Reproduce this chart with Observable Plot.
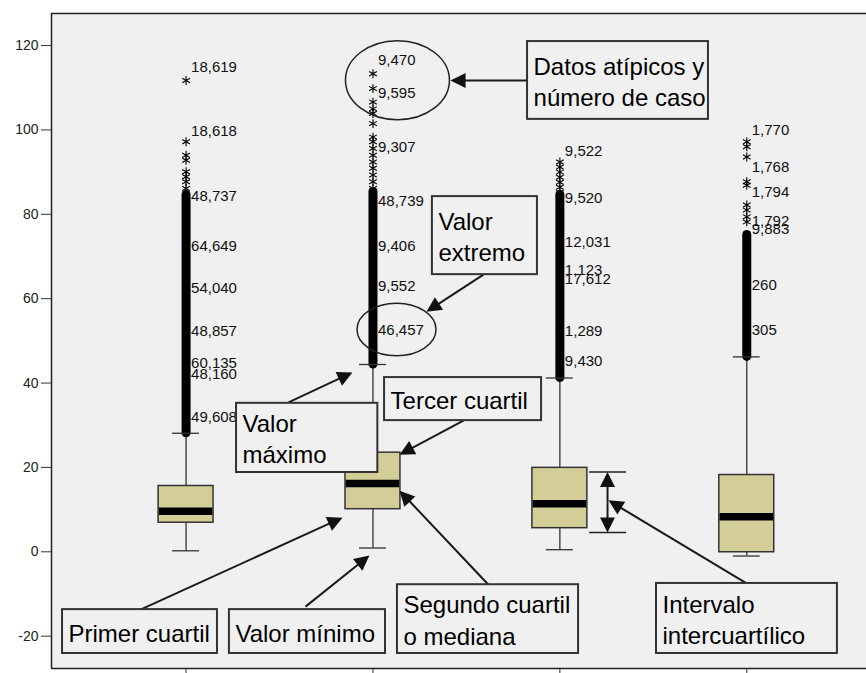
<!DOCTYPE html>
<html><head><meta charset="utf-8">
<script src="https://cdn.jsdelivr.net/npm/d3@7"></script>
<script src="https://cdn.jsdelivr.net/npm/@observablehq/plot@0.6"></script>
<style>html,body{margin:0;padding:0;background:#fff;} #chart svg{display:block;}</style>
</head><body><div id="chart"></div>
<script>
// ---- data ----
const groupPos = [1, 2, 3, 4];
const q1 = [6.9, 10.1, 5.6, -0.1];
const median = [9.6, 16.2, 11.4, 8.3];
const q3 = [15.6, 23.5, 19.9, 18.2];
const whiskerLow = [0.24, 0.9, 0.5, -1.0];
const whiskerHigh = [28.1, 44.4, 41.2, 46.2];
const denseOutlierTop = [84.6, 85.3, 84.6, 75.1];

const extremes1 = [111.7, 97.2, 94.0, 92.8, 90.1, 88.9, 87.7, 86.1];
const extremes2 = [113.3, 109.8, 106.6, 105.0, 103.9, 101.5, 98.3, 97.2, 95.6, 94.0, 92.4, 90.9, 89.3, 87.7, 86.1];
const extremes3 = [92.4, 91.2, 90.0, 88.8, 87.6, 86.4, 85.2];
const extremes4 = [97.2, 96.0, 93.6, 87.7, 86.9, 82.2, 81.0, 79.4, 78.2, 74.7];

const caseIds1 = ["18,619", "18,618", "48,737", "64,649", "54,040", "48,857", "60,135", "48,160", "49,608"];
const caseY1 = [114.8, 99.8, 84.2, 72.5, 62.5, 52.2, 44.8, 42.0, 31.9];
const caseIds2 = ["9,470", "9,595", "9,307", "48,739", "9,406", "9,552", "46,457"];
const caseY2 = [116.5, 108.6, 95.8, 83.0, 72.5, 62.9, 52.6];
const caseIds3 = ["9,522", "9,520", "12,031", "1,123", "17,612", "1,289", "9,430"];
const caseY3 = [95.0, 83.8, 73.5, 66.8, 64.7, 52.2, 45.2];
const caseIds4 = ["1,770", "1,768", "1,794", "1,792", "9,883", "260", "305"];
const caseY4 = [99.9, 91.1, 85.2, 78.3, 76.4, 63.3, 52.6];

const yTicks = [-20, 0, 20, 40, 60, 80, 100, 120];

// ---- annotations (in data units) ----
const notes = [
  {text: "Datos atípicos y\nnúmero de caso", x1: 2.827, x2: 3.795, y1: 102.5, y2: 120.95},
  {text: "Valor\nextremo", x1: 2.318, x2: 2.880, y1: 65.7, y2: 84.2},
  {text: "Tercer cuartil", x1: 2.062, x2: 2.902, y1: 31.1, y2: 41.3},
  {text: "Valor\nmáximo", x1: 1.270, x2: 2.026, y1: 18.8, y2: 35.2},
  {text: "Primer cuartil", x1: 0.339, x2: 1.168, y1: -24.1, y2: -13.7},
  {text: "Valor mínimo", x1: 1.232, x2: 2.067, y1: -24.1, y2: -13.7},
  {text: "Segundo cuartil\no mediana", x1: 2.131, x2: 3.100, y1: -24.1, y2: -7.8},
  {text: "Intervalo\nintercuartílico", x1: 3.517, x2: 4.485, y1: -24.1, y2: -7.5}
];
const arrows = [
  {x1: 2.827, y1: 111.7, x2: 2.415, y2: 111.7},
  {x1: 2.591, y1: 65.7, x2: 2.286, y2: 56.9},
  {x1: 2.484, y1: 31.1, x2: 2.142, y2: 23.0},
  {x1: 1.548, y1: 35.4, x2: 1.890, y2: 42.5},
  {x1: 0.756, y1: -13.7, x2: 1.837, y2: 8.1},
  {x1: 1.639, y1: -13.0, x2: 1.981, y2: -0.9},
  {x1: 2.618, y1: -7.8, x2: 2.142, y2: 14.5},
  {x1: 3.999, y1: -7.5, x2: 3.260, y2: 12.2},
  {x1: 3.255, y1: 11.75, x2: 3.255, y2: 18.9},
  {x1: 3.255, y1: 11.75, x2: 3.255, y2: 4.6}
];
const bracket = [{y: 18.9, x1: 3.159, x2: 3.357}, {y: 4.6, x1: 3.159, x2: 3.357}];
const ellipses = [{x: 2.131, y: 111.8, rx: 52, ry: 39.5}, {x: 2.126, y: 52.7, rx: 39.5, ry: 26.2}];

// ---- layout ----
const W = 866, H = 673, ML = 51, MT = 13, MB = 5, MR = 0;
const X_DOMAIN = [0.28, 4.6406];
const Y_DOMAIN = [-27.66, 127.6];
const sx = d3.scaleLinear(X_DOMAIN, [ML, W - MR]);
const sy = d3.scaleLinear(Y_DOMAIN, [H - MB, MT]);
const BOX_HALF = 0.147, CAP_HALF = 0.072;
const FONT = "'Liberation Sans', Arial, sans-serif";

const boxes = groupPos.map((pos, i) => ({
  pos, q1: q1[i], med: median[i], q3: q3[i], lo: whiskerLow[i], hi: whiskerHigh[i], top: denseOutlierTop[i]
}));
const stars = [extremes1, extremes2, extremes3, extremes4]
  .flatMap((arr, i) => arr.map(v => ({pos: groupPos[i], v})));
const caseLabels = [[caseIds1, caseY1], [caseIds2, caseY2], [caseIds3, caseY3], [caseIds4, caseY4]]
  .flatMap(([ids, ys], i) => ids.map((t, j) => ({pos: groupPos[i], v: ys[j], t})));

function ellipseSymbol(rx, ry) {
  const k = 0.5523;
  return {draw(c) {
    c.moveTo(rx, 0);
    c.bezierCurveTo(rx, k * ry, k * rx, ry, 0, ry);
    c.bezierCurveTo(-k * rx, ry, -rx, k * ry, -rx, 0);
    c.bezierCurveTo(-rx, -k * ry, -k * rx, -ry, 0, -ry);
    c.bezierCurveTo(k * rx, -ry, rx, -k * ry, rx, 0);
    c.closePath();
  }};
}
const ellipseMarks = ellipses.map(e =>
  Plot.dot([e], {x: "x", y: "y", r: 10, symbol: ellipseSymbol(e.rx, e.ry), fill: "none", stroke: "#222", strokeWidth: 1.5}));

const HEAD_L = 15, HEAD_W = 7.5;
const arrowMarks = arrows.flatMap(a => {
  const x0 = sx(a.x1), y0 = sy(a.y1), x1 = sx(a.x2), y1 = sy(a.y2);
  const th = Math.atan2(y1 - y0, x1 - x0);
  const cs = Math.cos(th), sn = Math.sin(th);
  const head = {draw(c) {
    const bx = -HEAD_L * cs, by = -HEAD_L * sn;
    const px = -sn * HEAD_W, py = cs * HEAD_W;
    c.moveTo(0, 0); c.lineTo(bx + px, by + py); c.lineTo(bx - px, by - py); c.closePath();
  }};
  const base = {x1: a.x1, y1: a.y1, x2: sx.invert(x1 - (HEAD_L - 1) * cs), y2: sy.invert(y1 - (HEAD_L - 1) * sn)};
  return [
    Plot.link([base], {x1: "x1", y1: "y1", x2: "x2", y2: "y2", stroke: "#1a1a1a", strokeWidth: 2}),
    Plot.dot([a], {x: "x2", y: "y2", r: 5, symbol: head, fill: "#111", stroke: "none"})
  ];
});

const chart = Plot.plot({
  width: W, height: H,
  marginLeft: ML, marginTop: MT, marginBottom: MB, marginRight: MR,
  style: {fontFamily: FONT, fontSize: "14px", background: "#fff", color: "#222"},
  x: {domain: X_DOMAIN, axis: null},
  y: {domain: Y_DOMAIN, axis: null},
  marks: [
    Plot.frame({fill: "#f0f0f0", stroke: null}),
    Plot.axisY(yTicks, {anchor: "left", tickSize: 10, tickPadding: 3, fontSize: 14, label: null, stroke: "#333", fill: "#222", tickFormat: d => String(d)}),
    Plot.axisX(groupPos, {anchor: "bottom", tickSize: 5, tickFormat: () => "", label: null, stroke: "#333"}),
    // whiskers
    Plot.ruleX(boxes, {x: "pos", y1: "lo", y2: "hi", stroke: "#333", strokeWidth: 1.3}),
    // dense outliers column
    Plot.ruleX(boxes, {x: "pos", y1: "hi", y2: "top", stroke: "#000", strokeWidth: 9, strokeLinecap: "round"}),
    // whisker caps
    Plot.ruleY(boxes, {y: "lo", x1: d => d.pos - CAP_HALF, x2: d => d.pos + CAP_HALF, stroke: "#333", strokeWidth: 1.3}),
    Plot.ruleY(boxes, {y: "hi", x1: d => d.pos - CAP_HALF, x2: d => d.pos + CAP_HALF, stroke: "#333", strokeWidth: 1.3}),
    // boxes
    Plot.rect(boxes, {x1: d => d.pos - BOX_HALF, x2: d => d.pos + BOX_HALF, y1: "q1", y2: "q3", fill: "#d3ce97", stroke: "#333", strokeWidth: 1.5}),
    Plot.ruleY(boxes, {y: "med", x1: d => d.pos - BOX_HALF + 0.004, x2: d => d.pos + BOX_HALF - 0.004, stroke: "#000", strokeWidth: 7.5}),
    // extreme values
    Plot.dot(stars, {x: "pos", y: "v", symbol: "asterisk", r: 4.2, stroke: "#000", strokeWidth: 1.1}),
    // case numbers
    Plot.text(caseLabels, {x: "pos", y: "v", text: "t", dx: 5, textAnchor: "start", lineAnchor: "middle", fontSize: 15, fill: "#111"}),
    // frame borders
    Plot.ruleX([X_DOMAIN[0]], {stroke: "#222", strokeWidth: 1.5}),
    Plot.ruleY([Y_DOMAIN[0], Y_DOMAIN[1]], {stroke: "#222", strokeWidth: 1.5}),
    // annotations
    ...ellipseMarks,
    Plot.ruleY(bracket, {y: "y", x1: "x1", x2: "x2", stroke: "#222", strokeWidth: 1.5}),
    ...arrowMarks,
    Plot.rect(notes, {x1: "x1", x2: "x2", y1: "y1", y2: "y2", fill: "#f0f0f0", stroke: "#333", strokeWidth: 2}),
    Plot.text(notes, {x: "x1", y: d => (d.y1 + d.y2) / 2, text: "text", dx: 6, textAnchor: "start", lineAnchor: "middle", lineHeight: 1.3, fontSize: 24, fill: "#000"})
  ]
});
document.getElementById("chart").appendChild(chart);
</script>
</body></html>
